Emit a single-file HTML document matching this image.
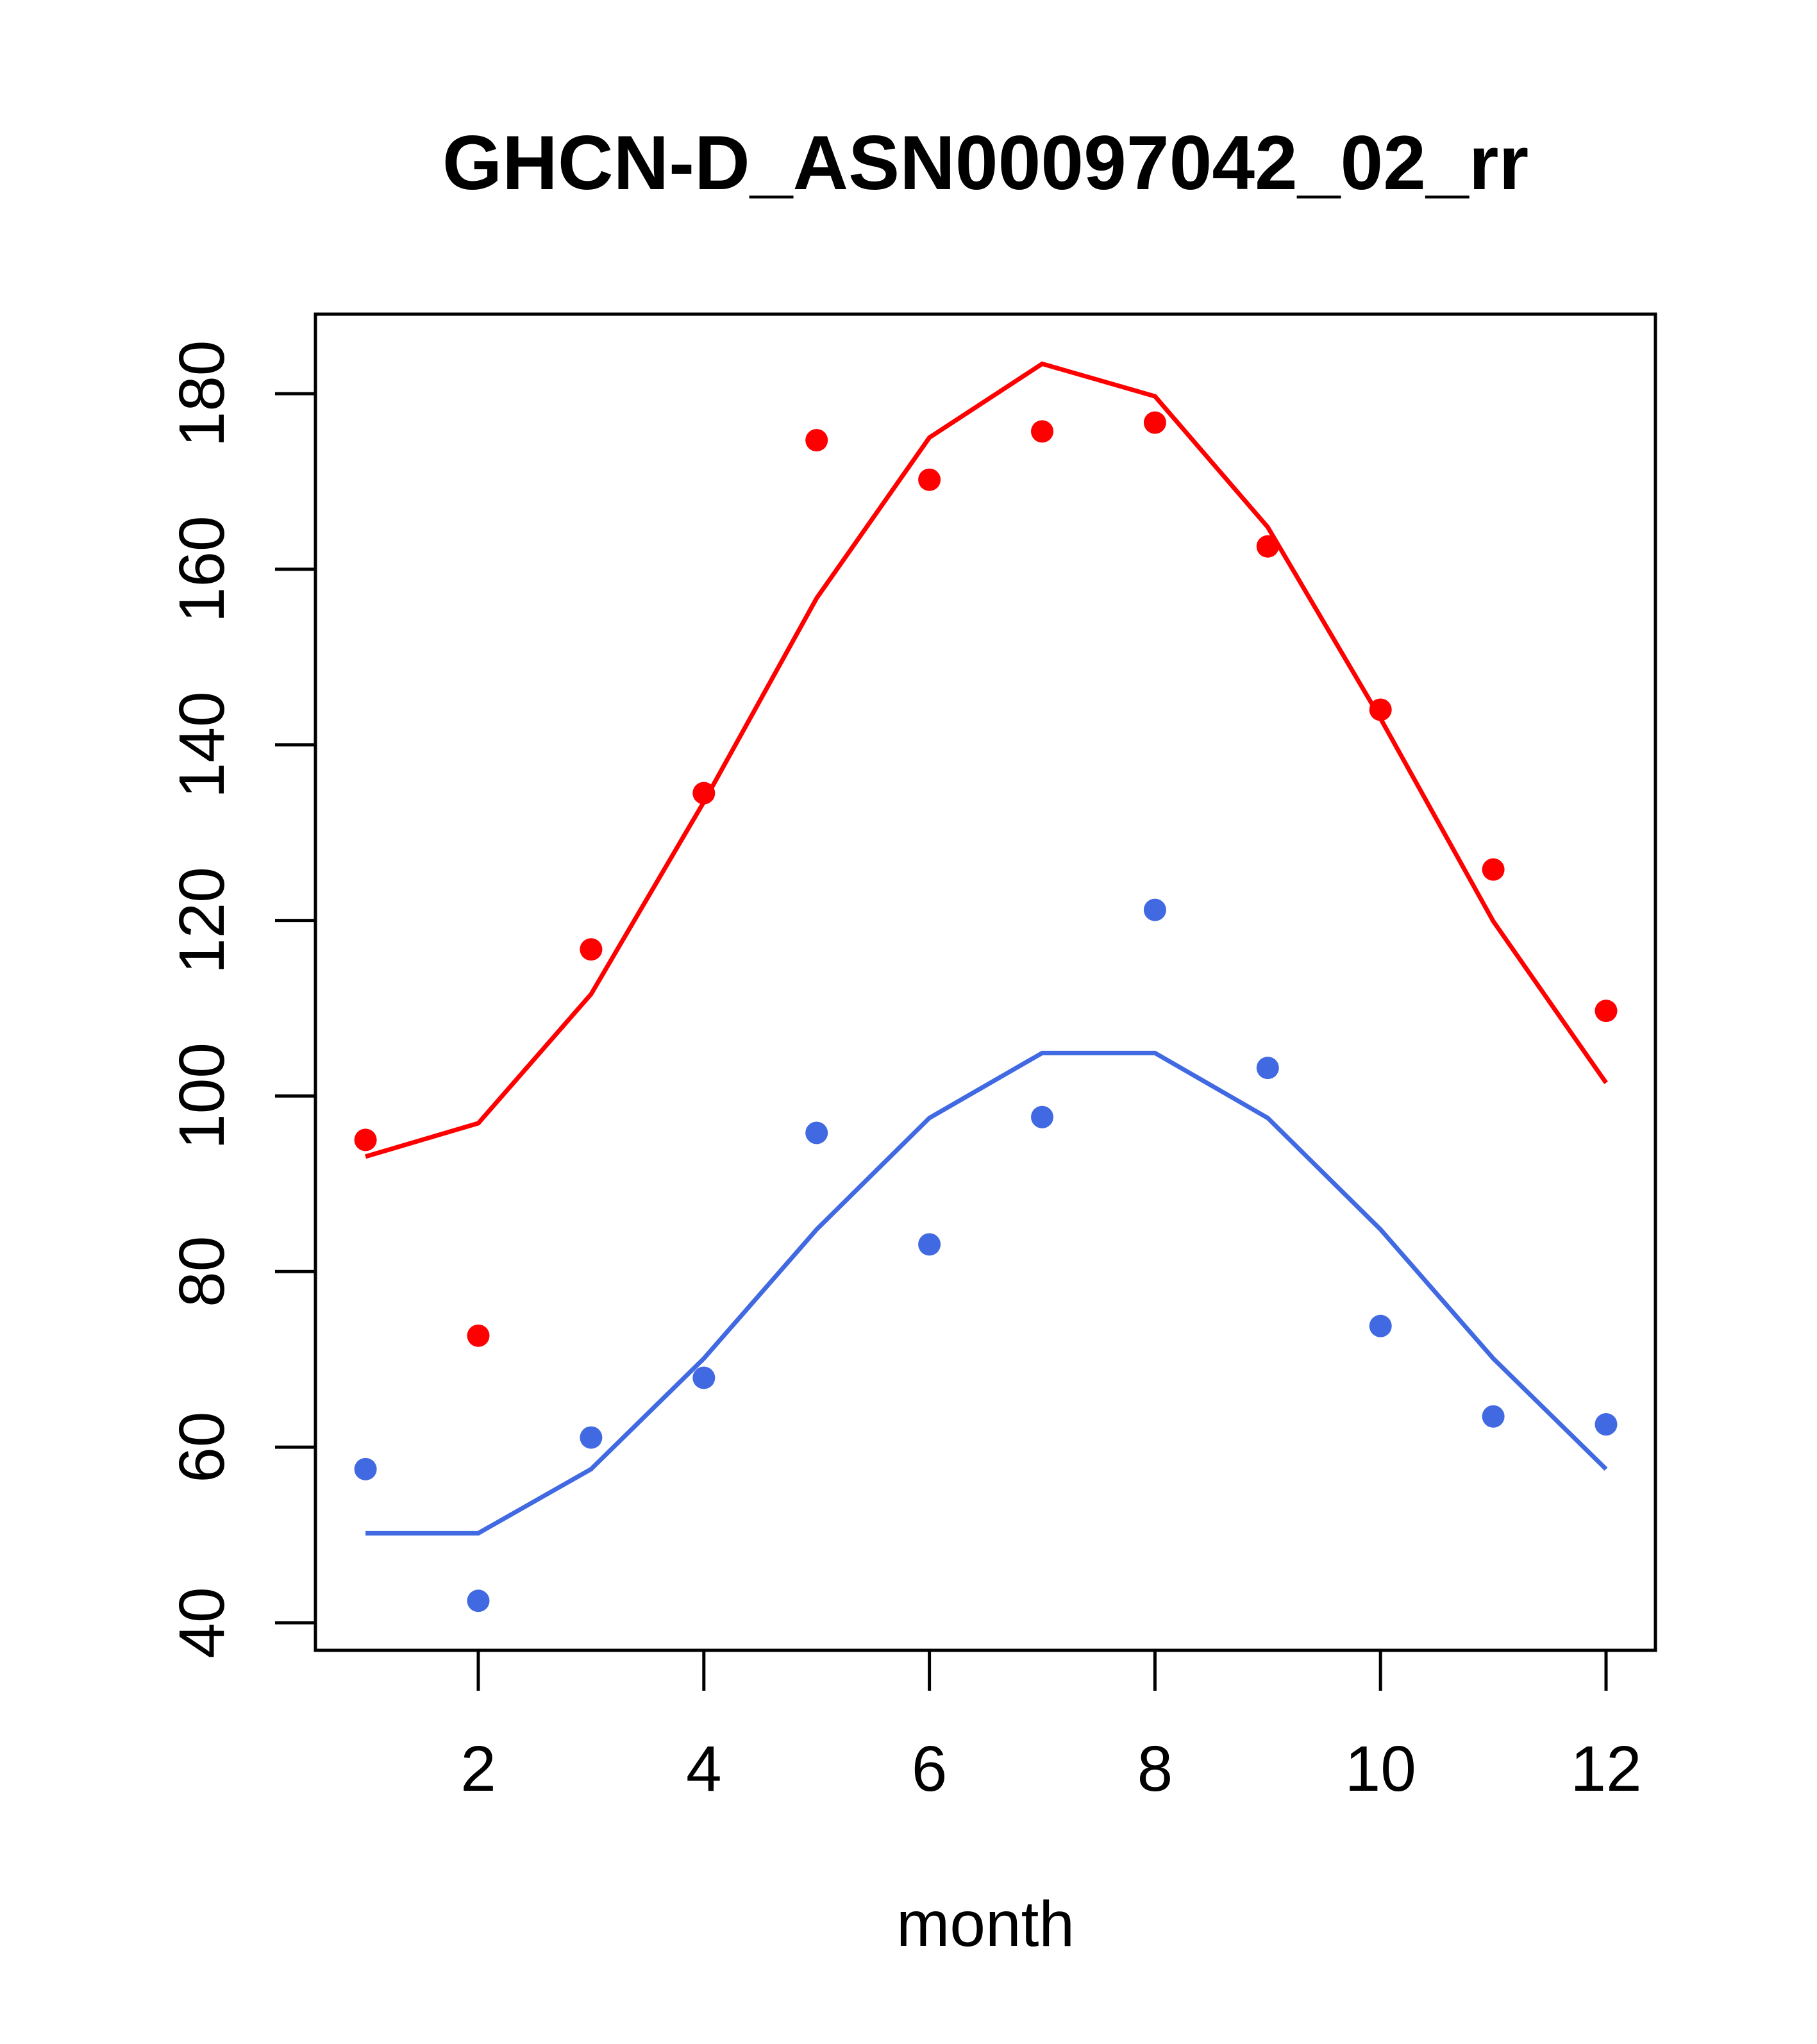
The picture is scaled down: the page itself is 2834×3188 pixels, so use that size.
<!DOCTYPE html>
<html><head><meta charset="utf-8"><style>
html,body{margin:0;padding:0;background:#fff;}
svg{display:block;font-family:"Liberation Sans",Arial,sans-serif;}
</style></head><body>
<svg id="chart" width="2834" height="3188" viewBox="0 0 2834 3188" xmlns="http://www.w3.org/2000/svg">
<rect width="2834" height="3188" fill="#fff"/>
<text x="1537" y="254" text-anchor="middle" dominant-baseline="central" font-weight="bold" font-size="120">GHCN-D_ASN00097042_02_rr</text>
<rect x="492" y="490" width="2090" height="2084" fill="none" stroke="#000" stroke-width="5"/>
<text x="1537" y="3001" text-anchor="middle" dominant-baseline="central" font-size="100">month</text>
<g id="axes"></g>
<g id="marks"></g>
</svg>
<script>
const months = [1,2,3,4,5,6,7,8,9,10,11,12];
const redPoints = [95,72.7,116.7,134.5,174.7,170.2,175.7,176.7,162.6,144,125.8,109.7];
const redLine = [93.1,96.9,111.6,133.5,156.7,175,183.4,179.7,164.8,143,119.9,101.5];
const bluePoints = [57.5,42.5,61.1,67.9,95.8,83.1,97.6,121.2,103.2,73.8,63.5,62.6];
const blueLine = [50.2,50.2,57.5,70.1,84.8,97.5,104.9,104.9,97.5,84.8,70.1,57.5];
const xTicks = [2,4,6,8,10,12];
const yTicks = [40,60,80,100,120,140,160,180];

const NS = "http://www.w3.org/2000/svg";
function xs(m){ return 746 + (m-2)*175.9; }
function ys(v){ return 2531 - (v-40)*(1917/140); }
function mk(tag, attrs, parent){
  const e = document.createElementNS(NS, tag);
  for (const k in attrs) e.setAttribute(k, attrs[k]);
  parent.appendChild(e); return e;
}
const axes = document.getElementById('axes');
const marks = document.getElementById('marks');

let xa = mk('line', {x1: xs(2), x2: xs(12), y1: 2574, y2: 2574, stroke:'#000','stroke-width':5}, axes);


xTicks.forEach(t => {
  const l = mk('line', {x1: xs(t), x2: xs(t), y1: 2574, y2: 2637, stroke:'#000','stroke-width':5}, axes);
  
  
  const tx = mk('text', {x: xs(t), y: 2759, 'text-anchor':'middle','dominant-baseline':'central','font-size':100}, axes);
  tx.textContent = t;
  
  
});
let ya = mk('line', {x1: 492, x2: 492, y1: ys(40), y2: ys(180), stroke:'#000','stroke-width':5}, axes);


yTicks.forEach(t => {
  const l = mk('line', {x1: 429, x2: 492, y1: ys(t), y2: ys(t), stroke:'#000','stroke-width':5}, axes);
  
  
  const tx = mk('text', {x: 0, y: 0, transform: 'translate(315,' + ys(t) + ') rotate(-90)', 'text-anchor':'middle','dominant-baseline':'central','font-size':100}, axes);
  tx.textContent = t;
  
  
});

function drawLine(vals, color, name){
  const pts = months.map((m,i) => xs(m) + ',' + ys(vals[i])).join(' ');
  const p = mk('polyline', {points: pts, fill:'none', stroke: color, 'stroke-width': 7}, marks);
  
  
}
function drawPoints(vals, color, name){
  months.forEach((m,i) => {
    const c = mk('circle', {cx: xs(m), cy: ys(vals[i]), r: 17.5, fill: color}, marks);
    
    
  });
}
drawLine(redLine, '#ff0000', 'red-fit-line');
drawLine(blueLine, '#4169e1', 'blue-fit-line');
drawPoints(redPoints, '#ff0000', 'red-point');
drawPoints(bluePoints, '#4169e1', 'blue-point');
</script>
</body></html>
